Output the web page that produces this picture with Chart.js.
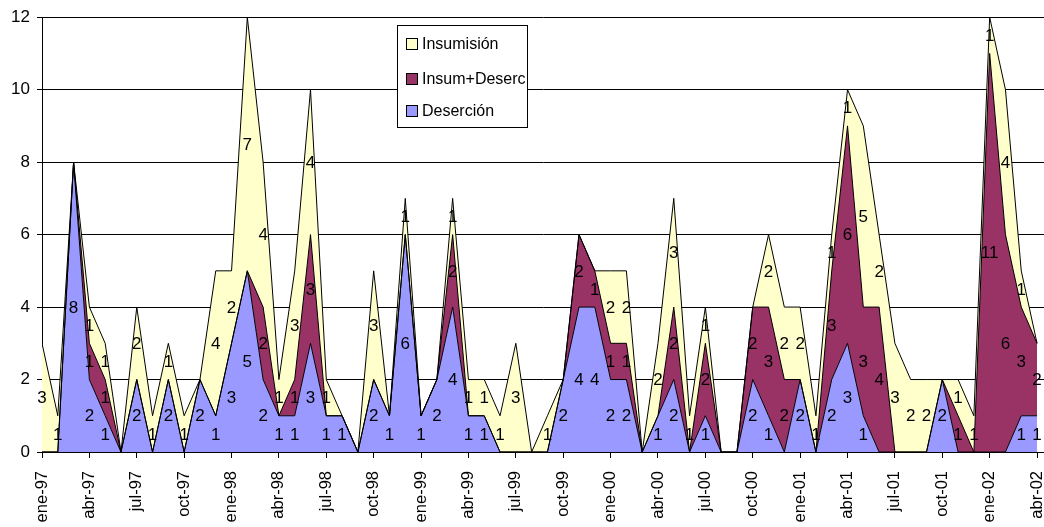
<!DOCTYPE html>
<html><head><meta charset="utf-8">
<script src="https://cdn.jsdelivr.net/npm/chart.js@4.4.1/dist/chart.umd.min.js"></script>
<style>html,body{margin:0;padding:0;background:#fff;overflow:hidden}#wrap{width:1044px;height:527px;position:relative}</style>
</head><body><div id="wrap"><canvas id="c" width="1044" height="527"></canvas></div>
<script>
const months = [
 'ene-97','feb-97','mar-97','abr-97','may-97','jun-97','jul-97','ago-97','sep-97','oct-97','nov-97','dic-97',
 'ene-98','feb-98','mar-98','abr-98','may-98','jun-98','jul-98','ago-98','sep-98','oct-98','nov-98','dic-98',
 'ene-99','feb-99','mar-99','abr-99','may-99','jun-99','jul-99','ago-99','sep-99','oct-99','nov-99','dic-99',
 'ene-00','feb-00','mar-00','abr-00','may-00','jun-00','jul-00','ago-00','sep-00','oct-00','nov-00','dic-00',
 'ene-01','feb-01','mar-01','abr-01','may-01','jun-01','jul-01','ago-01','sep-01','oct-01','nov-01','dic-01',
 'ene-02','feb-02','mar-02','abr-02'];
const desercion = [
 0,0,8,2,1,0,2,0,2,0,2,1,
 3,5,2,1,1,3,1,1,0,2,1,6,
 1,2,4,1,1,0,0,0,0,2,4,4,
 2,2,0,1,2,0,1,0,0,2,1,0,
 2,0,2,3,1,0,0,0,0,2,0,0,
 0,0,1,1];
const insumDeserc = [
 0,0,0,1,1,0,0,0,0,0,0,0,
 0,0,2,0,1,3,0,0,0,0,0,0,
 0,0,2,0,0,0,0,0,0,0,2,1,
 1,1,0,0,2,0,2,0,0,2,3,2,
 0,0,3,6,3,4,0,0,0,0,1,0,
 11,6,3,2];
const insumision = [
 3,1,0,1,1,0,2,1,1,1,0,4,
 2,7,4,1,3,4,1,0,0,3,0,1,
 0,0,1,1,1,1,3,0,1,0,0,0,
 2,2,0,2,3,1,1,0,0,0,2,2,
 2,1,1,1,5,2,3,2,2,0,1,1,
 1,4,1,0];
const seriesNames = ['Deserción','Insum+Deserc','Insumisión'];
const seriesColors = ['#9999FF','#993366','#FFFFCC'];
const FONT = "'Liberation Sans', Arial, sans-serif";

const seriesValues = [desercion, insumDeserc, insumision];
const datasets = seriesValues.map((vals, k) => ({
  label: seriesNames[k],
  data: vals.map((v, i) => ({x: i, y: v})),
  backgroundColor: seriesColors[k],
  borderColor: '#000',
  borderWidth: 1,
  pointRadius: 0,
  tension: 0,
  fill: k === 0 ? 'origin' : '-1'
}));

const labelPlugin = {
  id: 'valueLabels',
  afterDatasetsDraw(chart) {
    const ctx = chart.ctx, xs = chart.scales.x, ys = chart.scales.y;
    ctx.save();
    ctx.font = '17px ' + FONT;
    ctx.fillStyle = '#000';
    ctx.textAlign = 'center';
    ctx.textBaseline = 'middle';
    for (let i = 0; i < months.length; i++) {
      let base = 0;
      for (let s = 0; s < seriesValues.length; s++) {
        const v = seriesValues[s][i];
        if (v > 0) {
          ctx.fillText(String(v), xs.getPixelForValue(i), ys.getPixelForValue(base + v / 2) + 1);
        }
        base += v;
      }
    }
    ctx.restore();
  }
};

const legendPlugin = {
  id: 'boxLegend',
  afterDraw(chart) {
    const ctx = chart.ctx;
    ctx.save();
    ctx.fillStyle = '#fff';
    ctx.fillRect(397, 25, 130, 102);
    ctx.strokeStyle = '#000';
    ctx.lineWidth = 1;
    ctx.strokeRect(397.5, 25.5, 130, 102);
    const rows = [44, 79, 111];
    const order = [2, 1, 0];
    ctx.font = '16px ' + FONT;
    ctx.textBaseline = 'middle';
    ctx.textAlign = 'left';
    order.forEach((k, r) => {
      const cy = rows[r];
      ctx.fillStyle = seriesColors[k];
      ctx.fillRect(406, cy - 6, 12, 12);
      ctx.strokeStyle = '#000';
      ctx.strokeRect(406.5, cy - 5.5, 11, 11);
      ctx.fillStyle = '#000';
      ctx.fillText(seriesNames[k], 422, cy + 1);
    });
    ctx.restore();
  }
};

new Chart(document.getElementById('c'), {
  type: 'line',
  data: { datasets },
  options: {
    responsive: false,
    animation: false,
    devicePixelRatio: 1,
    layout: { padding: { top: 15, right: 0, left: 0, bottom: 0 } },
    plugins: {
      legend: { display: false },
      tooltip: { enabled: false },
      filler: { drawTime: 'beforeDatasetsDraw' }
    },
    scales: {
      x: {
        type: 'linear',
        min: 0,
        max: 63.44,
        afterFit(s) { s.height = 75; s.paddingLeft = 0; s.paddingRight = 0; },
        ticks: {
          stepSize: 3,
          includeBounds: false,
          autoSkip: false,
          maxRotation: 90,
          minRotation: 90,
          padding: 13,
          color: '#000',
          font: { family: FONT, size: 16.5 },
          callback: (v) => months[v] !== undefined ? months[v] : ''
        },
        grid: { drawOnChartArea: false, drawTicks: true, tickLength: 6, color: '#000' },
        border: { color: '#000', width: 1 }
      },
      y: {
        stacked: true,
        min: 0,
        max: 12,
        afterFit(s) { s.width = 42; },
        ticks: {
          stepSize: 2,
          padding: 7,
          color: '#000',
          font: { family: FONT, size: 17 }
        },
        grid: { color: '#000', lineWidth: 1, tickLength: 5 },
        border: { color: '#000', width: 1 }
      }
    }
  },
  plugins: [labelPlugin, legendPlugin]
});
</script>
</body></html>
